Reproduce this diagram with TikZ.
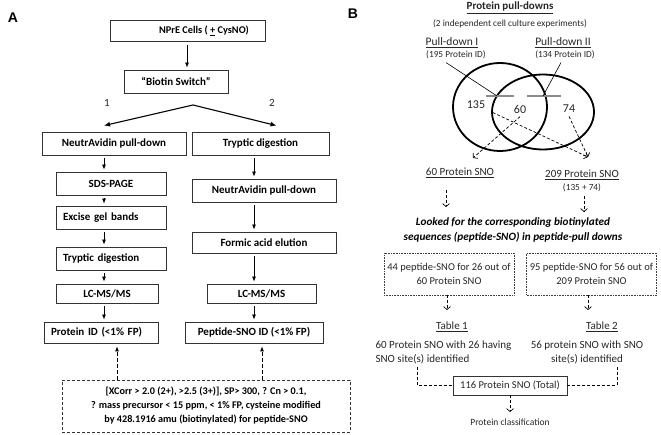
\documentclass[tikz,border=0pt]{standalone}
\usepackage{fontspec}
\setmainfont{Carlito}
\newfontfamily\panelfont{Liberation Sans}
\usetikzlibrary{positioning, shapes.geometric, arrows.meta}

\tikzset{
  flowbox/.style={draw=black!80, line width=0.8pt, inner sep=2pt,
    font=\fontsize{11}{12}\selectfont\bfseries},
  leftbox/.style={flowbox, align=left, inner xsep=7pt},
  flowarr/.style={-{Latex[length=5pt,width=4pt]}, line width=0.8pt,
    shorten <=3pt, shorten >=2pt},
  forkarr/.style={-{Latex[length=6pt,width=5pt]}, line width=1.1pt},
  uparr/.style={-{Latex[length=5pt,width=4pt]}, line width=0.8pt,
    dash pattern=on 3.5pt off 2.5pt, shorten >=3pt},
  snoarr/.style={-{Straight Barb[length=3pt,width=7pt]}, line width=0.7pt,
    dash pattern=on 3pt off 2pt},
  snoline/.style={line width=0.6pt, dash pattern=on 3pt off 2pt},
  dotbox/.style={draw=black!75, line width=0.6pt, densely dotted},
  venn/.style={ellipse, draw, line width=1.8pt, inner sep=0pt},
  bar/.style={draw=black!45, line width=1.6pt},
  txt/.style={font=\fontsize{11}{13.5}\selectfont, text=black!85},
  boxtxt/.style={font=\fontsize{10.5}{13.5}\selectfont, text=black!85},
  small/.style={font=\fontsize{9.3}{11}\selectfont, text=black!85},
  panel/.style={font=\panelfont\fontsize{14}{16}\selectfont\bfseries}
}

\begin{document}
\begin{tikzpicture}[x=1pt, y=-1pt]
  \useasboundingbox (0,0) rectangle (661,435);

  % ---- panel A
  \node[panel] (A) at (13,18) {A};
  \node[flowbox, font=\fontsize{10.3}{11}\selectfont\bfseries,
        minimum width=155pt, minimum height=21pt] (cells) at (188,31) {\hspace*{32pt}NPrE Cells ( \underline{+} CysNO)};
  \node[flowbox, minimum width=104pt, minimum height=23pt] (switch) at (176,81.5) {“Biotin Switch”};
  \draw[flowarr] (cells.south -| 187,0) -- (switch.north -| 187,0);

  \node[txt] (one) at (107,103) {1};
  \node[txt] (two) at (272,103) {2};
  \coordinate (fork) at (193,105);

  \node[flowbox, minimum width=144pt, minimum height=23pt] (pullL) at (114,143.5) {NeutrAvidin pull-down};
  \node[flowbox, minimum width=137pt, minimum height=23pt] (trypR) at (260.5,143.5) {Tryptic digestion};
  \draw[forkarr] (fork) -- ([shift={(-10,-6)}]pullL.north);
  \draw[forkarr] (fork) -- ([shift={(16,-6)}]trypR.north);

  % left branch
  \coordinate (colL) at (104,0);
  \node[flowbox, minimum width=110pt, minimum height=23pt] (sds) at (111,183.5) {SDS-PAGE};
  \node[leftbox, text width=96pt, minimum height=23pt] (excise) at (111,217.5) {Excise gel bands};
  \node[leftbox, text width=96pt, minimum height=23pt] (trypL) at (111,258.5) {Tryptic digestion};
  \node[flowbox, minimum width=102pt, minimum height=19pt] (lcmsL) at (107,293.5) {LC-MS/MS};
  \node[leftbox, text width=100pt, minimum height=21pt] (protid) at (101,332.5) {Protein ID (<1\% FP)};
  \draw[flowarr] (pullL.south -| colL) -- (sds.north -| colL);
  \draw[flowarr] (sds.south -| colL) -- (excise.north -| colL);
  \draw[flowarr] (excise.south -| colL) -- (trypL.north -| colL);
  \draw[flowarr] (trypL.south -| colL) -- (lcmsL.north -| colL);
  \draw[flowarr] (lcmsL.south -| colL) -- (protid.north -| colL);

  % right branch
  \coordinate (colR) at (254,0);
  \node[flowbox, minimum width=144pt, minimum height=23pt] (pullR) at (264,190.5) {NeutrAvidin pull-down};
  \node[flowbox, minimum width=144pt, minimum height=21pt] (formic) at (264,242.5) {Formic acid elution};
  \node[flowbox, minimum width=109pt, minimum height=19pt] (lcmsR) at (261.5,293.5) {LC-MS/MS};
  \node[flowbox, minimum width=138pt, minimum height=21pt] (pepid) at (254,332.5) {Peptide-SNO ID (<1\% FP)};
  \draw[flowarr] (trypR.south -| colR) -- (pullR.north -| colR);
  \draw[flowarr] (pullR.south -| colR) -- (formic.north -| colR);
  \draw[flowarr] (formic.south -| colR) -- (lcmsR.north -| colR);
  \draw[flowarr] (lcmsR.south -| colR) -- (pepid.north -| colR);

  % criteria
  \node[flowbox, dash pattern=on 3pt off 2pt, line width=0.7pt, align=center,
        minimum width=288pt, minimum height=52pt,
        font=\fontsize{10.2}{14}\selectfont\bfseries] (criteria) at (206,406)
    {[XCorr > 2.0 (2+), >2.5 (3+)], SP> 300, ? Cn > 0.1,\\
     ? mass precursor < 15 ppm, < 1\% FP, cysteine modified\\
     by 428.1916 amu (biotinylated) for peptide-SNO};
  \draw[uparr] (criteria.north -| 117,0) -- (protid.south -| 117,0);
  \draw[uparr] (criteria.north -| 262,0) -- (pepid.south -| 262,0);

  % ---- panel B
  \node[panel] (B) at (353,14) {B};
  \node[font=\fontsize{11}{12}\selectfont\bfseries, text=black!85] (title) at (510,8) {\underline{Protein pull-downs}};
  \node[small] (culture) at (510,24) {(2 independent cell culture experiments)};
  \node[txt, font=\fontsize{11.5}{13}\selectfont] (pdI) at (452,43) {\underline{Pull-down I}};
  \node[small] (pdIn) at (456,55) {(195 Protein ID)};
  \node[txt, font=\fontsize{11.5}{13}\selectfont] (pdII) at (563,43) {\underline{Pull-down II}};
  \node[small] (pdIIn) at (565,55) {(134 Protein ID)};

  \node[venn, minimum width=94pt, minimum height=88pt] (setI) at (500,107) {};
  \node[venn, minimum width=102pt, minimum height=75pt] (setII) at (543,112) {};
  \draw[bar] (486,96) -- (514,96);
  \draw[bar] (527,96) -- (561,96);
  \coordinate (barI) at (497,96);
  \coordinate (barII) at (543,96);
  \draw[line width=0.6pt] ([xshift=-10pt]pdIn.south) -- (barI);
  \draw[line width=0.6pt] ([xshift=-4pt]pdIIn.south) -- (barII);

  \node[txt, font=\fontsize{12}{14}\selectfont] (n135) at (476,105) {135};
  \node[txt, font=\fontsize{12}{14}\selectfont] (n60) at (520,109) {60};
  \node[txt, font=\fontsize{12}{14}\selectfont] (n74) at (569,109) {74};
  \coordinate (tip60) at (473,158);
  \coordinate (tip209) at (588,157);
  \draw[snoarr] (n60.south) -- (tip60);
  \draw[snoarr] ([xshift=4pt]n135.south east) -- (tip209);
  \draw[snoarr] (n74.south) -- (tip209);

  \node[txt] (sno60) at (460,173) {\underline{60 Protein SNO}};
  \node[txt] (sno209) at (582,175) {\underline{209 Protein SNO}};
  \node[small] (sum) at (582,188) {(135 + 74)};
  \coordinate (fromA) at (446,190);
  \coordinate (lookA) at (446,207);
  \coordinate (fromB) at (584,196);
  \coordinate (lookB) at (584,212);
  \draw[snoarr] (fromA) -- (lookA);
  \draw[snoarr] (fromB) -- (lookB);
  \node[font=\fontsize{11.2}{15}\selectfont\bfseries\itshape, align=center] (looked) at (513,229.5)
    {Looked for the corresponding biotinylated\\ sequences (peptide-SNO) in peptide-pull downs};

  \node[dotbox, boxtxt, align=center, minimum width=130pt, minimum height=42pt] (pep44) at (449,274)
    {44 peptide-SNO for 26 out of\\ 60 Protein SNO};
  \node[dotbox, boxtxt, align=center, minimum width=129pt, minimum height=42pt] (pep95) at (591.5,274)
    {95 peptide-SNO for 56 out of\\ 209 Protein SNO};

  \node[txt] (tab1) at (452,327) {\underline{Table 1}};
  \node[txt] (tab2) at (602,327) {\underline{Table 2}};
  \coordinate (tabA) at (447,310);
  \coordinate (tabB) at (588,310);
  \draw[snoarr] (pep44.south -| tabA) -- (tabA);
  \draw[snoarr] (pep95.south -| tabB) -- (tabB);

  \node[txt, align=left, anchor=west] (res1) at (372,352.5) {60 Protein SNO with 26 having\\ SNO site(s) identified};
  \node[txt, align=center] (res2) at (587,352.5) {56 protein SNO with SNO\\ site(s) identified};

  \node[draw=black!80, line width=0.8pt, boxtxt, minimum width=114pt, minimum height=19pt, inner sep=1pt] (total) at (510,385.5)
    {116 Protein SNO (Total)};
  \draw[snoline] (res1.south -| 417,0) |- (total.west);
  \draw[snoline] (res2.south -| 617,0) |- (total.east);
  \node[txt, font=\fontsize{9.5}{11}\selectfont] (classif) at (510,422) {Protein classification};
  \coordinate (classtip) at (510,412);
  \draw[snoarr] (total.south) -- (classtip);
\end{tikzpicture}
\end{document}
